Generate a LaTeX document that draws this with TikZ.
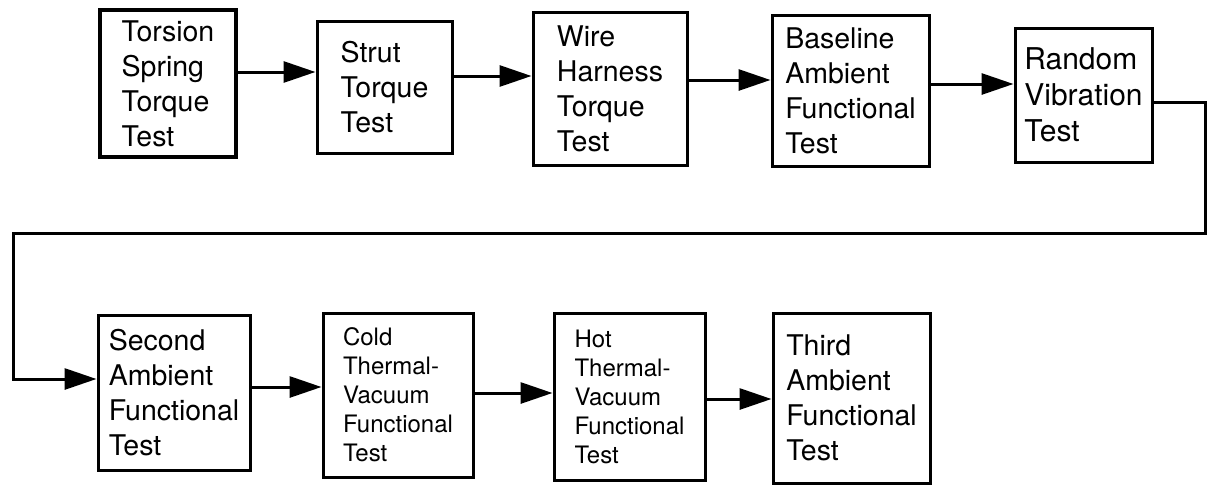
\documentclass[tikz,border=0pt]{standalone}
\usepackage{fontspec}
\setmainfont{TeX Gyre Heros}
\usetikzlibrary{arrows.meta}
\tikzset{
  testbox/.style={draw, line width=3pt, rectangle, inner sep=0pt, align=left,
    font=\fontsize{28.5}{35}\selectfont},
  smallbox/.style={testbox, font=\fontsize{24}{29}\selectfont},
  conn/.style={line width=3pt, -{Triangle[length=32pt,width=21pt]}},
  plain/.style={line width=3pt}
}
\begin{document}
\begin{tikzpicture}[x=1pt,y=-1pt]
\useasboundingbox (0,0) rectangle (1208,485);
% top row
\node[testbox, line width=3.5pt, minimum width=136pt, minimum height=147pt] (b1) at (168,83.5) {Torsion\\Spring\\Torque\\Test};
\node[testbox, minimum width=135pt, minimum height=132pt] (b2) at (384.5,87) {Strut\\Torque\\Test};
\node[testbox, minimum width=154pt, minimum height=153pt] (b3) at (610,88.5) {Wire\\Harness\\Torque\\Test};
\node[testbox, minimum width=157pt, minimum height=151pt] (b4) at (850.5,90.5) {Baseline\\Ambient\\Functional\\Test};
\node[testbox, font=\fontsize{30}{36}\selectfont, minimum width=137pt, minimum height=134pt] (b5) at (1083.5,95) {Random\\Vibration\\Test};
% bottom row
\node[testbox, minimum width=152pt, minimum height=155pt] (b6) at (174,392.5) {Second\\Ambient\\Functional\\Test};
\node[smallbox, minimum width=150pt, minimum height=164pt] (b7) at (398,395) {Cold\\Thermal-\\Vacuum\\Functional\\Test};
\node[smallbox, minimum width=151pt, minimum height=167pt] (b8) at (629.5,396.5) {Hot\\Thermal-\\Vacuum\\Functional\\Test};
\node[testbox, minimum width=157pt, minimum height=170pt] (b9) at (851.5,398) {Third\\Ambient\\Functional\\Test};
% corner coordinates of the return line
\coordinate (c1) at (1205,102);
\coordinate (c2) at (1205,233);
\coordinate (c3) at (13,233);
\coordinate (c4) at (13,379);
% connectors
\draw[conn] (b1.east |- 0,72) -- (b2.west |- 0,72);
\draw[conn] (b2.east |- 0,76) -- (b3.west |- 0,76);
\draw[conn] (b3.east |- 0,80) -- (b4.west |- 0,80);
\draw[conn] (b4.east |- 0,84) -- (b5.west |- 0,84);
\draw[conn, line join=miter] (b5.east |- c1) -- (c1) -- (c2) -- (c3) -- (c4) -- (b6.west |- c4);
\draw[conn] (b6.east |- 0,387) -- (b7.west |- 0,387);
\draw[conn] (b7.east |- 0,393) -- (b8.west |- 0,393);
\draw[conn] (b8.east |- 0,399) -- (b9.west |- 0,399);
\end{tikzpicture}
\end{document}
